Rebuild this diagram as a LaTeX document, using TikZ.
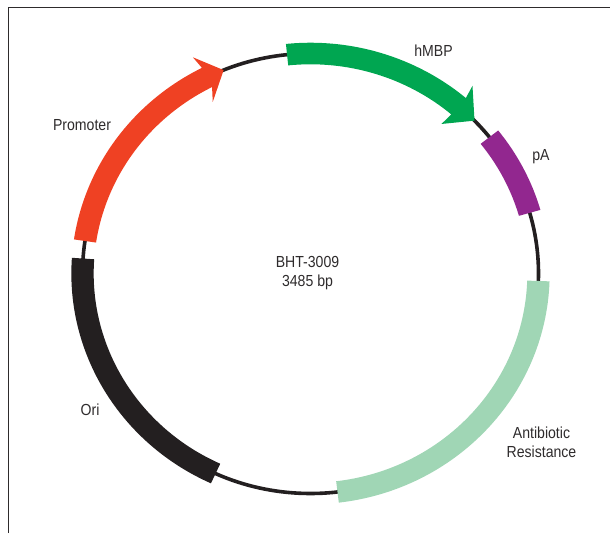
\documentclass[tikz,border=0pt]{standalone}
\usepackage{fontspec}
\setmainfont{Liberation Sans}[FakeStretch=0.88]

\definecolor{promred}{HTML}{EF4123}
\definecolor{mbpgreen}{HTML}{00A651}
\definecolor{papurple}{HTML}{92278F}
\definecolor{resgreen}{HTML}{A0D6B5}
\definecolor{bbblack}{HTML}{231F20}
\definecolor{txtgray}{HTML}{2E2B2C}

\begin{document}
\begin{tikzpicture}[x=1pt,y=1pt,line join=miter,
  maplabel/.style={text=txtgray,font=\fontsize{16}{19.5}\selectfont,align=center,inner sep=0pt}]
\useasboundingbox (0,0) rectangle (610,533);
\draw [line width=1pt,txtgray] (8,0)-- (8,525.5)-- (610,525.5);

\begin{scope}[shift={(310.5,259.5)},x=228pt,y=220pt]
% backbone
\draw [line width=3.6pt,bbblack] (0,0) circle [radius=1];
% Ori
\fill [bbblack] (176.1:0.951) arc [start angle=176.1,end angle=245.4,radius=0.951]
  -- (245.4:1.049) arc [start angle=245.4,end angle=176.1,radius=1.049] -- cycle;
% Promoter
\fill [promred] (171.5:0.951) arc [start angle=171.5,end angle=117,radius=0.951]
  -- (118.8:0.89) -- (112.4:1) -- (117.7:1.11)
  -- (117:1.049) arc [start angle=117,end angle=171.5,radius=1.049] -- cycle;
% hMBP
\fill [mbpgreen] (95.9:1.049) arc [start angle=95.9,end angle=49.5,radius=1.049]
  -- (50.2:1.11) -- (44:1) -- (49.8:0.89)
  -- (49.5:0.951) arc [start angle=49.5,end angle=95.9,radius=0.951] -- cycle;
% pA
\fill [papurple] (38.3:1.049) arc [start angle=38.3,end angle=16,radius=1.049]
  -- (16:0.951) arc [start angle=16,end angle=38.3,radius=0.951] -- cycle;
% Antibiotic resistance
\fill [resgreen] (-1.95:1.049) arc [start angle=-1.95,end angle=-83.2,radius=1.049]
  -- (-83.2:0.951) arc [start angle=-83.2,end angle=-1.95,radius=0.951] -- cycle;
\end{scope}

\node [maplabel] (promoter) at (82,408) {Promoter};
\node [maplabel] (hmbp) at (433.5,482) {hMBP};
\node [maplabel] (pa) at (541,376) {pA};
\node [maplabel] (plasmid) at (307.5,260) {BHT-3009\\3485 bp};
\node [maplabel] (ori) at (90,123) {Ori};
\node [maplabel] (resistance) at (541.5,90.5) {Antibiotic\\Resistance};
\end{tikzpicture}
\end{document}
